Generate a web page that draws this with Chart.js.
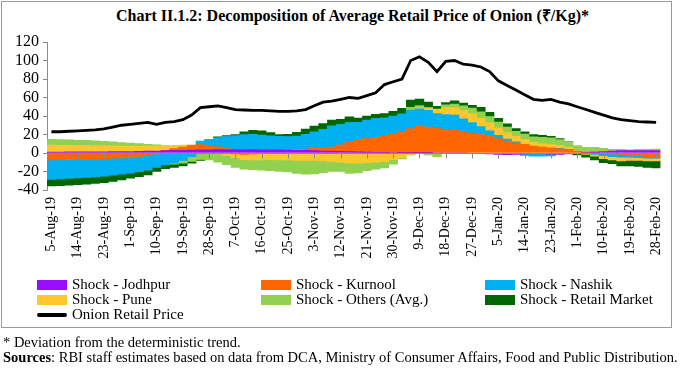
<!DOCTYPE html>
<html>
<head>
<meta charset="utf-8">
<script src="https://cdn.jsdelivr.net/npm/chart.js@4.4.1/dist/chart.umd.min.js"></script>
<style>
  body { margin: 0; width: 680px; height: 369px; position: relative; background: #fff; font-family: 'Liberation Serif', 'Times New Roman', serif; color: #000; overflow: hidden; }
  #frame { position: absolute; left: 1px; top: 1px; width: 671px; height: 327px; border: 1px solid #9a9a9a; box-sizing: border-box; }
  #title { position: absolute; left: 0; width: 705px; top: 4px; text-align: center; font-weight: bold; font-size: 16px; white-space: nowrap; }
  #chart { position: absolute; left: 0; top: 0; }
  .leg { position: absolute; font-size: 15px; white-space: nowrap; line-height: 15px; }
  .sw { position: absolute; width: 30px; height: 10px; top: 3px; left: -35px; }
  .note { position: absolute; left: 3px; font-size: 14.5px; white-space: nowrap; }
</style>
</head>
<body>
<div id="frame"></div>
<div id="title">Chart II.1.2: Decomposition of Average Retail Price of Onion (₹/Kg)*</div>
<canvas id="chart" width="680" height="369"></canvas>
<div id="legend"></div>
<div class="note" style="top:334px">* Deviation from the deterministic trend.</div>
<div class="note" style="top:349px"><b>Sources</b>: RBI staff estimates based on data from DCA, Ministry of Consumer Affairs, Food and Public Distribution.</div>
<script>
// ── DATA (every 3rd day) ──
const days = ['5-Aug-19','8-Aug-19','11-Aug-19','14-Aug-19','17-Aug-19','20-Aug-19','23-Aug-19','26-Aug-19','29-Aug-19',
  '1-Sep-19','4-Sep-19','7-Sep-19','10-Sep-19','13-Sep-19','16-Sep-19','19-Sep-19','22-Sep-19','25-Sep-19','28-Sep-19',
  '1-Oct-19','4-Oct-19','7-Oct-19','10-Oct-19','13-Oct-19','16-Oct-19','19-Oct-19','22-Oct-19','25-Oct-19','28-Oct-19','31-Oct-19',
  '3-Nov-19','6-Nov-19','9-Nov-19','12-Nov-19','15-Nov-19','18-Nov-19','21-Nov-19','24-Nov-19','27-Nov-19','30-Nov-19',
  '3-Dec-19','6-Dec-19','9-Dec-19','12-Dec-19','15-Dec-19','18-Dec-19','21-Dec-19','24-Dec-19','27-Dec-19','30-Dec-19',
  '2-Jan-20','5-Jan-20','8-Jan-20','11-Jan-20','14-Jan-20','17-Jan-20','20-Jan-20','23-Jan-20','26-Jan-20','29-Jan-20',
  '1-Feb-20','4-Feb-20','7-Feb-20','10-Feb-20','13-Feb-20','16-Feb-20','19-Feb-20','22-Feb-20','25-Feb-20','28-Feb-20'];

const jodhpur = [1.0,1.0,1.2,1.2,1.3,1.3,1.4,1.5,1.5,1.6,1.8,2.0,
  2.2,2.5,2.8,3.0,3.2,3.5,3.5,3.6,3.8,
  3.8,3.8,3.6,3.5,3.5,3.4,3.2,3.0,2.8,2.5,
  2.2,2.0,1.8,1.5,1.2,1.0,0.8,0.6,0.5,0.4,0.3,0.2,
  0.1,0,0,0,0,-0.5,-0.8,-1,-1.5,-1.8,-1.5,-1,-0.5,
  -0.5,-1.2,-1.5,-1,-0.5,0.5,1,1.5,2,2.5,2.5,2.5,2.5,2.5];

const kurnool = [-7.6,-7.3,-7.0,-6.8,-6.6,-6.3,-6.0,-5.6,-5.2,-4.6,-3.8,-2.8,
  -1.0,0.5,2.0,3.5,5.0,5.5,4.5,3.0,1.0,-1.0,-1.5,-1.0,-0.5,0,0,0.5,
  0.8,1.5,2.5,3.5,4.5,7,10,12.5,14.5,16,17.5,20,23,26,28.5,28,27,25.5,24.5,23,
  21.5,20,18.5,15.5,13,11,9.5,7.5,6.5,5.5,4.5,3,1.5,0.5,0,-0.5,-1,-1.5,-2,-3,-4,-4.5];

const nashik = [-20.9,-20.7,-20.4,-20.1,-19.8,-19.5,-19.0,-18.5,-17.8,-17.2,-16.5,-15.8,
  -14.5,-13,-11,-8,-4,
  4,6,10,13,15,16,16.5,16,15,14.5,14,
  14.5,16,18,20,23,22,21.5,19.5,20,20.5,20,19.5,19,20,19,18,15.5,16,16.5,14,
  11.5,8.5,5.5,3.5,2,1,-1.5,-3,-3,-2,0.5,1,0.5,-0.5,-1.5,-2.5,-3,-3,-2.5,-2,-1.5,-1];

const pune = [7.6,7.4,7.2,7.0,6.8,6.5,6.3,6.2,6.1,6.0,5.8,5.5,
  5.2,4.5,3.5,2,0.5,0,0,-1,
  -2.5,-4,-5.5,-6.5,-7,-7,-7.5,-7.5,-8,-8,-8,-8.5,-9,-10,-11,-11,-10.5,-10,-9,-7,-5,-2,
  1,3,5,7.5,8,9,9.5,9,8.5,8,7,6,5,4,3.5,3.5,3,2,1,-1,-2,-3,-3.5,-4,-3.5,-3,-3,-3];

const others = [6.2,6.0,5.8,5.6,5.5,5.3,5.0,4.5,3.8,3.2,2.6,2.0,1.5,0.5,
  -1,-3,-5,-7,-7.5,-9,-10,-10.5,-10.5,-10.5,-11,-12,-12.5,-13,-14,-15,-14.5,-13,-11,-10,-11,-10.5,-8.5,-7.5,-7,-5,-1.5,
  3,2.5,-2,-4,3,4,5,6,7,7,6.5,6,5.5,6,6,7,7.5,6.5,5.5,5,5,5,3.5,2,1.5,1,1.5,1.5,1.8];

const retail = [-7.2,-7.2,-7.3,-7.3,-7.2,-7.2,-7.0,-6.5,-6.0,-5.5,-5.2,-5.0,-4.5,-4.0,-3.5,-3.0,-2.0,-1.0,
  0.5,1,1,1,3,4.5,4.5,3.5,2,2.5,4,5.5,6,6,6,5.5,6,4.5,4.5,4.5,4.5,5,6,8,7,6,3,2.5,3.5,3,3,5,4.5,4,3.5,3,2.5,2.5,2,1.5,1,0.5,
  -1.5,-3,-4,-4.5,-4,-5.5,-6,-6.5,-7,-7.5];

const price = [23,23,23.5,24,24.5,25,26,28,30,31,32,33,31,33,34,36,41,49,50,51,
  49,47,46.5,46,46,45.5,45,45,45.5,47,51,55,56,58,60,59,62,65,74,77,
  80,100,104,98,88,99,100,96,95,93,88,78,73,68,63,58,57,58,55,53,
  50,47,44,41,38,36,35,34,33.5,33];

const shockNames = ['Shock - Jodhpur','Shock - Kurnool','Shock - Nashik','Shock - Pune','Shock - Others (Avg.)','Shock - Retail Market'];
const shockColors = ['#9a0cff','#ff6600','#00b0f0','#ffc72c','#92d050','#006600'];
const shockSeries = [jodhpur, kurnool, nashik, pune, others, retail];
const yTicks = [-40, -20, 0, 20, 40, 60, 80, 100, 120];

Chart.defaults.font.family = "'Liberation Serif', 'Times New Roman', serif";
Chart.defaults.color = '#000';

// zero axis with tick marks, drawn over the bars like the original
const zeroAxis = {
  id: 'zeroAxis',
  afterDatasetsDraw(chart) {
    const { ctx, chartArea, scales: { x, y } } = chart;
    const y0 = Math.round(y.getPixelForValue(0)) + 0.5;
    ctx.save();
    ctx.strokeStyle = '#8a8a8a';
    ctx.lineWidth = 1;
    ctx.beginPath();
    ctx.moveTo(chartArea.left, y0);
    ctx.lineTo(chartArea.right, y0);
    days.forEach((d, i) => {
      if (i % 3 !== 0) return;
      const px = Math.round(x.getPixelForValue(i)) + 0.5;
      ctx.moveTo(px, y0);
      ctx.lineTo(px, y0 + 5);
    });
    ctx.stroke();
    ctx.restore();
  }
};

const datasets = shockSeries.map((s, k) => ({
  type: 'bar',
  label: shockNames[k],
  data: s,
  backgroundColor: shockColors[k],
  borderWidth: 0,
  barPercentage: 1,
  categoryPercentage: 1,
  stack: 'shock',
  order: 2
}));
datasets.push({
  type: 'line',
  label: 'Onion Retail Price',
  data: price,
  borderColor: '#000',
  borderWidth: 2.8,
  pointRadius: 0,
  tension: 0,
  stack: 'price',
  order: 1
});

new Chart(document.getElementById('chart'), {
  data: { labels: days, datasets },
  plugins: [zeroAxis],
  options: {
    responsive: false,
    animation: false,
    layout: { padding: { left: 0, right: 11, top: 42, bottom: 99 } },
    plugins: { legend: { display: false }, tooltip: { enabled: false } },
    scales: {
      x: {
        stacked: true,
        grid: { display: false, drawTicks: false },
        border: { display: false },
        ticks: {
          autoSkip: false, minRotation: 90, maxRotation: 90, padding: 7,
          font: { size: 14 },
          callback: (v, i) => (i % 3 === 0 ? days[i] : '')
        },
        afterFit: s => { s.height = 80; }
      },
      y: {
        stacked: true,
        min: -40, max: 120,
        afterBuildTicks: s => { s.ticks = yTicks.map(v => ({ value: v })); },
        grid: { drawOnChartArea: false, tickLength: 4, tickColor: '#8a8a8a' },
        border: { color: '#8a8a8a' },
        ticks: { autoSkip: false, padding: 4, font: { size: 16 } },
        afterFit: s => { s.width = 47; }
      }
    }
  }
});

// ── LEGEND ──
const legendPos = [[72, 277], [296, 277], [520, 277], [72, 292], [296, 292], [520, 292]];
const legendEl = document.getElementById('legend');
shockNames.forEach((n, k) => {
  legendEl.innerHTML += `<div class="leg" style="left:${legendPos[k][0]}px;top:${legendPos[k][1]}px">
    <div class="sw" style="background:${shockColors[k]}"></div>${n}</div>`;
});
legendEl.innerHTML += `<div class="leg" style="left:72px;top:307px">
  <div class="sw" style="background:#000;height:4px;top:6px;border-radius:2px"></div>Onion Retail Price</div>`;
</script>
</body>
</html>
